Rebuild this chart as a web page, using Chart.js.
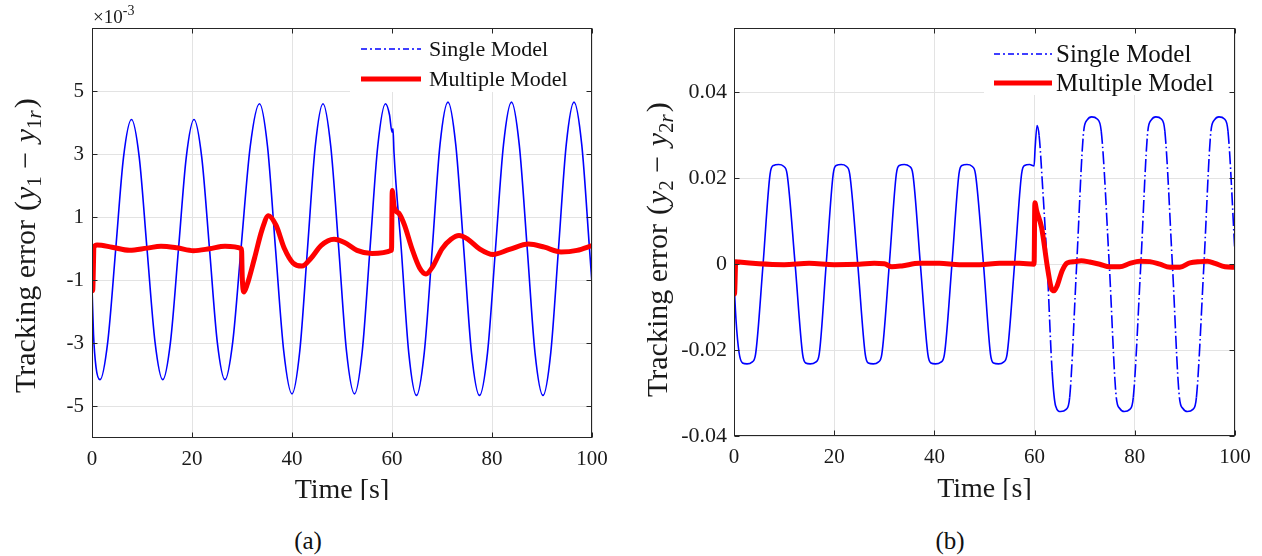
<!DOCTYPE html>
<html><head><meta charset="utf-8">
<script src="https://cdn.jsdelivr.net/npm/chart.js@4"></script>
<style>
html,body{margin:0;padding:0;background:#fff;width:1262px;height:556px;overflow:hidden;}
#wa{position:absolute;left:0;top:0;width:620px;height:500px;}
#wb{position:absolute;left:620px;top:0;width:642px;height:500px;}
.cap{position:absolute;top:526px;font:25px "Liberation Serif",serif;color:#111;transform:translateX(-50%);line-height:30px;}
</style></head><body>
<div id="wa"><canvas id="ca" width="620" height="500"></canvas></div>
<div id="wb"><canvas id="cb" width="642" height="500"></canvas></div>
<div class="cap" style="left:308px">(a)</div>
<div class="cap" style="left:950px">(b)</div>
<script>
// ---------- data ----------
const seriesNames = ['Single Model', 'Multiple Model'];
const xTicks = [0, 20, 40, 60, 80, 100];

// (a) values in units of 1e-3
const yTicksA = [-5, -3, -1, 1, 3, 5];
const yTickLabelsA = ['-5', '-3', '-1', '1', '3', '5'];
const timeA_single = [0, 0.3, 0.8, 1.6, 3.15, 4.75, 6.3, 7.9, 9.45, 11.0, 12.6, 14.15, 15.7, 17.3, 18.85, 20.4,
  21.95, 23.5, 25.05, 26.6, 28.15, 29.8, 31.65, 33.5, 35.1, 36.7, 38.35, 40.0, 41.55, 43.1, 44.65, 46.2,
  47.75, 49.35, 50.9, 52.5, 54.05, 55.6, 57.15, 58.7, 59.5, 60.0, 60.2, 60.4, 61.85, 63.35, 64.9, 66.45,
  68.05, 69.6, 71.2, 72.75, 74.35, 75.9, 77.5, 79.1, 80.7, 82.3, 83.9, 85.45, 87.05, 88.6, 90.2, 91.75,
  93.3, 94.85, 96.4, 97.95, 99.5, 100];
const errA_single = [-1.2, -2.7, -3.75, -4.15, -2.95, 0, 2.9, 4.1, 2.9, 0, -2.95, -4.15, -2.95, 0, 2.9, 4.1,
  2.9, 0, -2.95, -4.15, -2.95, 0, 3.25, 4.6, 3.25, 0, -3.25, -4.6, -3.25, 0, 3.25, 4.6,
  3.25, 0, -3.25, -4.6, -3.25, 0, 3.25, 4.6, 4.25, 3.7, 3.8, 3.05, 0, -3.3, -4.65, -3.3,
  0, 3.3, 4.65, 3.3, 0, -3.3, -4.65, -3.3, 0, 3.3, 4.65, 3.3, 0, -3.3, -4.65, -3.3,
  0, 3.3, 4.65, 3.3, 0, -1.1];
const timeA_multi = [0, 0.15, 0.4, 1.0, 4.0, 7.5, 11.0, 13.8, 17.0, 20.3, 23.5, 26.6, 29.9, 30.05, 30.35, 31.0,
  32.5, 34.0, 35.3, 36.8, 38.5, 40.2, 42.0, 43.8, 45.8, 48.4, 50.5, 53.0, 56.0, 59.9, 60.05, 60.4,
  60.8, 61.5, 62.5, 64.0, 65.5, 66.8, 68.2, 70.0, 71.8, 73.4, 75.2, 77.5, 80.2, 83.5, 87.3, 90.5,
  93.8, 97.0, 100];
const errA_multi = [-1.35, -1.3, 0.05, 0.12, 0.05, -0.05, 0.02, 0.08, 0.03, -0.06, 0.0, 0.08, 0.0, -0.9, -1.37, -1.15,
  -0.3, 0.6, 1.05, 0.75, 0.0, -0.45, -0.55, -0.3, 0.1, 0.3, 0.2, -0.05, -0.15, -0.05, 1.85, 1.35,
  1.2, 1.1, 0.75, 0.0, -0.6, -0.8, -0.55, 0.0, 0.3, 0.42, 0.3, 0.0, -0.18, -0.02, 0.15, 0.05,
  -0.1, -0.05, 0.1];

// (b)
const yTicksB = [-0.04, -0.02, 0, 0.02, 0.04];
const yTickLabelsB = ['-0.04', '-0.02', '0', '0.02', '0.04'];
const timeB_single = [0, 0.4, 1.0, 1.7, 2.6, 3.6, 4.3, 5.8, 7.2, 7.9, 8.9, 9.9, 10.6, 12.2, 13.7, 14.3,
  15.2, 16.3, 17.0, 18.4, 19.8, 20.4, 21.4, 22.4, 23.1, 24.7, 26.2, 26.8, 27.8, 28.8, 29.5, 31.0,
  32.4, 33.0, 34.0, 35.0, 35.7, 37.2, 38.7, 39.3, 40.2, 41.3, 42.0, 43.5, 44.9, 45.5, 46.5, 47.5,
  48.2, 49.8, 51.2, 51.8, 52.8, 53.8, 54.5, 56.0, 57.4, 58.0, 59.0, 59.9, 60.1, 60.5, 60.9, 61.6,
  62.5, 63.5, 64.2, 65.2, 66.3, 67.0, 68.4, 69.8, 70.5, 71.4, 72.5, 73.3, 74.9, 76.3, 77.0, 77.9,
  79.0, 79.7, 81.2, 82.6, 83.3, 84.2, 85.3, 86.0, 87.5, 88.9, 89.6, 90.5, 91.6, 92.3, 93.8, 95.2,
  95.9, 96.8, 97.9, 98.6, 100];
const errB_single = [-0.004, -0.013, -0.0205, -0.023, -0.0232, -0.0228, -0.021, 0, 0.021, 0.023, 0.0232, 0.0228, 0.021, 0, -0.021, -0.023,
  -0.0232, -0.0228, -0.021, 0, 0.021, 0.023, 0.0232, 0.0228, 0.021, 0, -0.021, -0.023, -0.0232, -0.0228, -0.021, 0,
  0.021, 0.023, 0.0232, 0.0228, 0.021, 0, -0.021, -0.023, -0.0232, -0.0228, -0.021, 0, 0.021, 0.023, 0.0232, 0.0228,
  0.021, 0, -0.021, -0.023, -0.0232, -0.0228, -0.021, 0, 0.021, 0.023, 0.0232, 0.0229, 0.027, 0.0323, 0.030, 0.018,
  0, -0.025, -0.033, -0.0343, -0.0338, -0.031, 0, 0.031, 0.0336, 0.0343, 0.0338, 0.031, 0, -0.031, -0.0336, -0.0343,
  -0.0338, -0.031, 0, 0.031, 0.0336, 0.0343, 0.0338, 0.031, 0, -0.031, -0.0336, -0.0343, -0.0338, -0.031, 0, 0.031,
  0.0336, 0.0343, 0.0338, 0.031, 0.0025];
const timeB_multi = [0, 0.12, 0.35, 1.0, 5.0, 10.0, 15.0, 20.0, 25.0, 28.0, 30.0, 31.5, 33.5, 37.0, 41.0, 45.0,
  49.0, 53.0, 57.0, 59.9, 60.05, 60.4, 61.4, 62.6, 63.4, 63.9, 64.5, 65.5, 66.5, 68.0, 69.3, 71.0,
  73.0, 75.0, 77.0, 79.0, 81.0, 83.0, 85.0, 87.0, 89.0, 91.0, 93.0, 94.5, 96.0, 98.0, 100];
const errB_multi = [-0.007, -0.0068, 0.0006, 0.0005, 0.0001, -0.0001, 0.0002, -0.0001, 0.0, 0.0002, 0.0001, -0.0006, -0.0004, 0.0002, 0.0002, -0.0001,
  -0.0001, 0.0002, 0.0002, 0.0, 0.0143, 0.0125, 0.0085, -0.001, -0.0058, -0.0062, -0.005, -0.0015, 0.0003, 0.0006, 0.0008, 0.0005,
  0.0, -0.0006, -0.0006, 0.0002, 0.0007, 0.0006, 0.0, -0.0007, -0.0007, 0.0003, 0.0006, 0.0007, 0.0002, -0.0006, -0.0007];

// ---------- drawing ----------
const SERIF = '"Liberation Serif", "Times New Roman", serif';
const AX = '#262626';

const deco = {
  id: 'deco',
  afterDatasetsDraw(chart) {
    const o = chart.options.plugins.deco;
    const c = chart.ctx, a = chart.chartArea;
    const L = Math.round(a.left) + 0.5, R = Math.round(a.right) - 0.5;
    const T = Math.round(a.top) + 0.5, B = Math.round(a.bottom) - 0.5;
    c.save();
    // legend
    const lg = o.legend;
    c.fillStyle = '#fff';
    c.fillRect(a.right - lg.boxW, a.top + 1, lg.boxW - 2, lg.boxH);
    const ds = chart.data.datasets;
    c.textAlign = 'left'; c.textBaseline = 'middle';
    c.font = lg.size + 'px ' + SERIF; c.fillStyle = '#111';
    [0, 1].forEach(i => {
      const y = a.top + lg.rows[i];
      c.beginPath();
      c.strokeStyle = ds[i].borderColor;
      c.lineWidth = i === 0 ? 1.6 : 5;
      c.setLineDash(i === 0 ? [6, 3, 2, 3] : []);
      c.moveTo(a.right - lg.x0, y); c.lineTo(a.right - lg.x1, y);
      c.stroke();
      c.setLineDash([]);
      c.fillText(ds[i].label, a.right - lg.tx, y + 1);
    });
    // box
    c.strokeStyle = AX; c.lineWidth = 1;
    c.strokeRect(L, T, R - L, B - T);
    // inner ticks
    c.beginPath();
    const sx = chart.scales.x, sy = chart.scales.y;
    xTicks.forEach(v => {
      const px = Math.round(sx.getPixelForValue(v)) + 0.5;
      c.moveTo(px, B); c.lineTo(px, B - 5);
      c.moveTo(px, T); c.lineTo(px, T + 5);
    });
    o.yt.forEach(v => {
      const py = Math.round(sy.getPixelForValue(v)) + 0.5;
      c.moveTo(L, py); c.lineTo(L + 5, py);
      c.moveTo(R, py); c.lineTo(R - 5, py);
    });
    c.stroke();
    // x title
    c.fillStyle = '#1a1a1a';
    c.font = '28px ' + SERIF; c.textAlign = 'center'; c.textBaseline = 'middle';
    c.fillText('Time [s]', (a.left + a.right) / 2, a.bottom + o.xTitleDy);
    // y title (rich)
    c.translate(o.yTitleX, o.yTitleY);
    c.rotate(-Math.PI / 2);
    c.textAlign = 'left'; c.textBaseline = 'alphabetic';
    let u = 0;
    o.yTitle.forEach(s => {
      c.font = s.f;
      c.fillText(s.t, u, s.dy || 0);
      u += c.measureText(s.t).width + (s.gap || 0);
    });
    c.setTransform(1, 0, 0, 1, 0, 0);
    // exponent
    if (o.expo) {
      c.textAlign = 'left'; c.textBaseline = 'alphabetic';
      c.font = '19px ' + SERIF;
      c.fillText('\u00d710', a.left + 1, 23);
      const w = c.measureText('\u00d710').width;
      c.font = '14px ' + SERIF;
      c.fillText('-3', a.left + 1 + w, 15);
    }
    c.restore();
  }
};

function titleSegs(k) {
  const R = '30px ' + SERIF, I = 'italic 30px ' + SERIF, S = '21px ' + SERIF, SI = 'italic 21px ' + SERIF;
  return [
    {t: 'Tracking error', f: R, gap: 9},
    {t: '(', f: R, gap: 1},
    {t: 'y', f: I, gap: 0},
    {t: k, f: S, dy: 6, gap: 0},
    {t: ' \u2212 ', f: R, gap: 2},
    {t: 'y', f: I, gap: 0},
    {t: k, f: S, dy: 6, gap: 0},
    {t: 'r', f: SI, dy: 6, gap: 2},
    {t: ')', f: R}
  ];
}

function makeChart(id, cfg) {
  return new Chart(document.getElementById(id), {
    type: 'line',
    data: {
      datasets: [
        {label: seriesNames[0], data: cfg.ts.map((x, i) => ({x, y: cfg.es[i]})), borderColor: '#0000ff',
          borderWidth: 1.6, pointRadius: 0, cubicInterpolationMode: 'monotone', order: 2, segment: cfg.segment || {}},
        {label: seriesNames[1], data: cfg.tm.map((x, i) => ({x, y: cfg.em[i]})), borderColor: '#ff0000',
          borderWidth: 5, pointRadius: 0, cubicInterpolationMode: 'monotone', borderJoinStyle: 'round', order: 1}
      ]
    },
    options: {
      responsive: false, animation: false, events: [],
      layout: {padding: {top: 28, right: cfg.padR, left: 0, bottom: 0}},
      plugins: {
        legend: {display: false}, tooltip: {enabled: false},
        deco: cfg.deco
      },
      scales: {
        x: {
          type: 'linear', min: 0, max: 100,
          afterBuildTicks: s => { s.ticks = xTicks.map(v => ({value: v})); },
          afterFit: s => { s.height = cfg.xH; },
          ticks: {font: {family: SERIF, size: 21}, color: '#1a1a1a', padding: 9, maxRotation: 0, autoSkip: false,
            callback: (v, i) => String(xTicks[i])},
          grid: {color: '#e3e3e3', drawTicks: false, lineWidth: 1},
          border: {display: false}
        },
        y: {
          type: 'linear', min: cfg.ymin, max: cfg.ymax,
          afterBuildTicks: s => { s.ticks = cfg.yt.map(v => ({value: v})); },
          afterFit: s => { s.width = cfg.yW; },
          ticks: {font: {family: SERIF, size: cfg.yFont}, color: '#1a1a1a', padding: cfg.yPad, autoSkip: false,
            callback: (v, i) => cfg.ytl[i]},
          grid: {color: '#e3e3e3', drawTicks: false, lineWidth: 1},
          border: {display: false}
        }
      }
    },
    plugins: [deco]
  });
}

makeChart('ca', {
  ts: timeA_single, es: errA_single, tm: timeA_multi, em: errA_multi,
  ymin: -6, ymax: 7, yt: yTicksA, ytl: yTickLabelsA,
  padR: 28, xH: 62, yW: 92, yFont: 21, yPad: 8,
  deco: {
    yt: yTicksA, expo: true, xTitleDy: 53,
    yTitleX: 35, yTitleY: 393, yTitle: titleSegs('1'),
    legend: {boxW: 242, boxH: 63, size: 22, rows: [21, 51], x0: 231, x1: 171, tx: 163}
  }
});

makeChart('cb', {
  ts: timeB_single, es: errB_single, tm: timeB_multi, em: errB_multi,
  ymin: -0.04, ymax: 0.055, yt: yTicksB, ytl: yTickLabelsB,
  padR: 27, xH: 64, yW: 114, yFont: 22, yPad: 7,
  segment: {borderDash: ctx => (ctx.p0.parsed.x >= 60.5 && Math.abs(ctx.p1.parsed.y - ctx.p0.parsed.y) > 0.01) ? [13, 3, 1.5, 3] : undefined},
  deco: {
    yt: yTicksB, expo: false, xTitleDy: 54,
    yTitleX: 47, yTitleY: 397, yTitle: titleSegs('2'),
    legend: {boxW: 251, boxH: 66, size: 25, rows: [26, 55], x0: 241, x1: 183, tx: 179}
  }
});
</script>
</body></html>
